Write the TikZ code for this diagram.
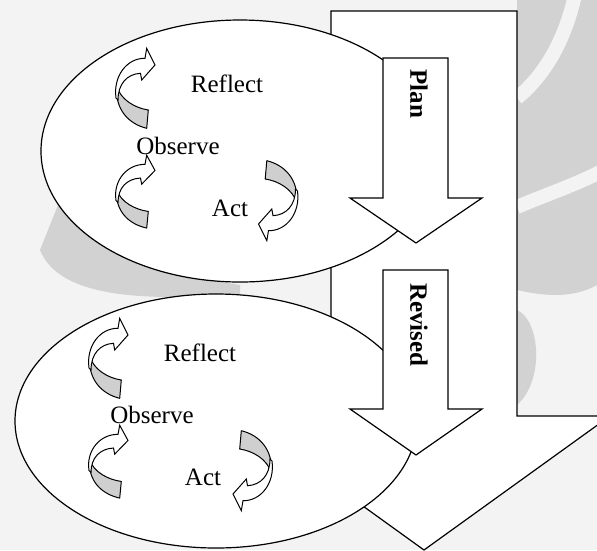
\documentclass[tikz,border=0pt]{standalone}
\usepackage{fontspec}
\setmainfont{Liberation Serif}
\usetikzlibrary{shapes.geometric}
\definecolor{wmlight}{HTML}{F3F3F3}
\definecolor{wmgray}{HTML}{D2D2D2}
\definecolor{ribbon}{HTML}{CFCFCF}
\tikzset{
  outline/.style={draw=black, line width=1.2pt, line join=miter},
  loopbox/.style={ellipse, outline, fill=white, inner sep=0pt},
  steplabel/.style={font=\fontsize{25}{30}\selectfont, inner sep=0pt},
  phaselabel/.style={font=\fontsize{25}{30}\selectfont\bfseries, inner sep=0pt, rotate=-90},
  carrow/.pic={
    \draw[line width=1pt, fill=ribbon, line join=round]
      (1.5,38) .. controls (0,62) and (14,76) .. (31.7,80.3)
      -- (33.3,62) .. controls (20,60) and (6,52) .. cycle;
    \draw[line width=1pt, fill=white, line join=miter]
      (1,50) .. controls (-2,28) and (12,10) .. (30,10.3)
      -- (31.7,0.3) -- (40,17) -- (26.7,32) -- (25.5,25.3)
      .. controls (12,26) and (3,36) .. (3,52) -- cycle;
  }
}
\begin{document}
\begin{tikzpicture}[x=1pt, y=-1pt]
\useasboundingbox (0,0) rectangle (597,550);
% faint watermark background
\fill[wmlight] (0,0) rectangle (597,550);
\fill[wmgray] (517,0) -- (597,0) -- (597,285) .. controls (570,300) and (540,295) .. (517,290) -- cycle;
\draw[wmlight, line width=14pt] (517,98) .. controls (545,75) and (565,40) .. (575,-5);
\draw[wmlight, line width=14pt] (517,207) .. controls (545,195) and (575,185) .. (600,172);
\fill[wmgray] (517,310) .. controls (540,320) and (545,380) .. (517,405) -- cycle;
\fill[wmgray] (40,250) .. controls (60,300) and (150,300) .. (240,295) -- (240,285) .. controls (150,270) and (80,250) .. (60,200) -- cycle;
% big arrow
\draw[outline, fill=white] (331,11) coordinate (bigtl) -- (517,11) -- (517,416) -- (610,416)
  -- (424,550) coordinate (bigtip) -- (238,416) -- (331,416) -- cycle;
% upper loop
\node[loopbox, minimum width=398pt, minimum height=262pt] (loopA) at (240,151) {};
\pic at (115,48) {carrow};
\pic[yscale=0.91] at (115,155) {carrow};
\pic[rotate=180] at (298.5,241) {carrow};
\node[steplabel] (reflA) at (227,84) {Reflect};
\node[steplabel] (obsA) at (178,146) {Observe};
\node[steplabel] (actA) at (230,208) {Act};
% lower loop
\node[loopbox, minimum width=402pt, minimum height=254pt] (loopB) at (216,421) {};
\pic at (88,318) {carrow};
\pic[yscale=0.91] at (88,425) {carrow};
\pic[rotate=180] at (273,511) {carrow};
\node[steplabel] (reflB) at (200,353) {Reflect};
\node[steplabel] (obsB) at (152,415) {Observe};
\node[steplabel] (actB) at (203,477) {Act};
% plan arrows
\draw[outline, fill=white] (383,58) -- (448,58) -- (448,198) -- (482,198) -- (416,243) coordinate (plantip)
  -- (350,198) -- (383,198) -- cycle;
\node[phaselabel] (plan) at (419,94) {Plan};
\draw[outline, fill=white] (383,270) -- (448,270) -- (448,409) -- (482,409) -- (416,455) coordinate (revtip)
  -- (350,409) -- (383,409) -- cycle;
\node[phaselabel] (revised) at (419,325) {Revised};
\end{tikzpicture}
\end{document}
